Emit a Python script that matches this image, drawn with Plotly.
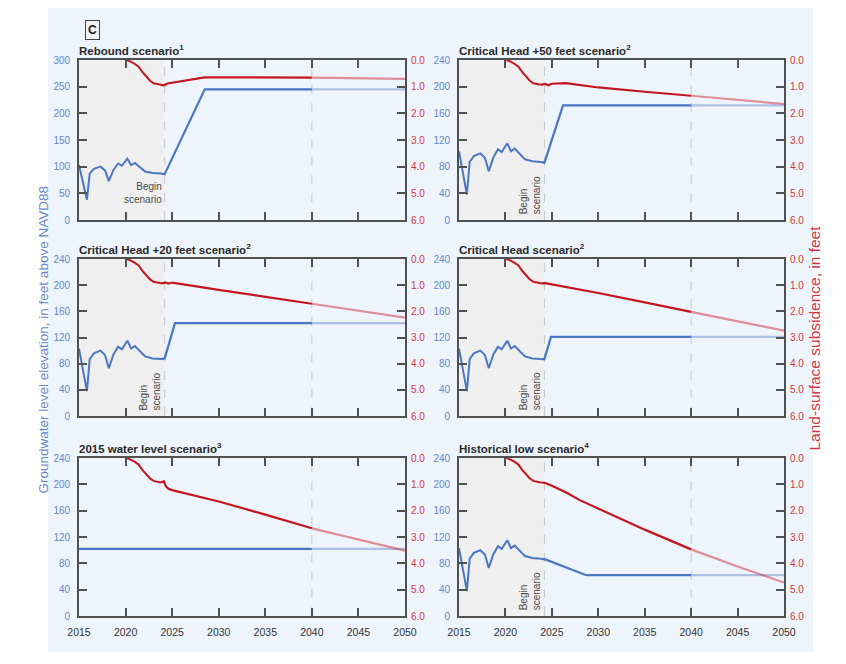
import plotly.graph_objects as go

# historical record, shared by the scenario panels
hist_gw_years = [2015.0, 2015.85, 2016.15, 2016.6, 2017.3, 2017.8, 2018.2, 2018.7,
                 2019.2, 2019.6, 2020.2, 2020.6, 2021.0, 2021.5, 2022.1, 2022.9, 2023.8]
hist_gw = [103, 38, 87, 96, 100, 93, 73, 94, 106, 102, 115, 103, 107, 100, 91, 88, 87]
hist_sub_years = [2020.1, 2020.5, 2021.0, 2021.4, 2021.8, 2022.2, 2022.6, 2023.0, 2023.4, 2023.8]
hist_sub = [0.0, 0.05, 0.15, 0.25, 0.45, 0.63, 0.77, 0.87, 0.9, 0.93]

# scenarios (groundwater level in ft, subsidence in ft)
rebound_gw_years = [2023.8, 2024.2, 2028.5, 2040, 2050]
rebound_gw = [87, 86, 245, 245, 245]
rebound_sub_years = [2023.8, 2024.1, 2024.5, 2025.5, 2027.0, 2028.5, 2040, 2050]
rebound_sub = [0.93, 0.95, 0.88, 0.82, 0.72, 0.65, 0.66, 0.71]

ch50_gw_years = [2023.8, 2024.2, 2026.2, 2040, 2050]
ch50_gw = [87, 86, 172, 172, 172]
ch50_sub_years = [2023.8, 2024.3, 2024.6, 2025.0, 2026.5, 2030, 2035, 2040, 2050]
ch50_sub = [0.93, 0.9, 0.95, 0.89, 0.87, 1.03, 1.19, 1.34, 1.65]

ch20_gw_years = [2023.8, 2024.2, 2025.3, 2040, 2050]
ch20_gw = [87, 88, 142, 142, 142]
ch20_sub_years = [2023.8, 2024.3, 2024.6, 2025.0, 2030, 2035, 2040, 2050]
ch20_sub = [0.93, 0.9, 0.94, 0.9, 1.18, 1.44, 1.71, 2.24]

ch_gw_years = [2023.8, 2024.2, 2024.9, 2040, 2050]
ch_gw = [87, 87, 121, 121, 121]
ch_sub_years = [2023.8, 2024.3, 2025.0, 2030, 2035, 2040, 2050]
ch_sub = [0.93, 0.92, 0.97, 1.3, 1.66, 2.02, 2.74]

wl2015_gw_years = [2015, 2040, 2050]
wl2015_gw = [102, 102, 102]
wl2015_sub_years = [2023.8, 2024.1, 2024.3, 2024.6, 2025.0, 2030, 2035, 2040, 2050]
wl2015_sub = [0.93, 0.88, 1.06, 1.17, 1.22, 1.65, 2.15, 2.67, 3.52]

histlow_gw_years = [2023.8, 2024.3, 2028.7, 2040, 2050]
histlow_gw = [87, 86, 62, 62, 62]
histlow_sub_years = [2023.8, 2024.3, 2025.0, 2026.5, 2028.0, 2030, 2035, 2040, 2045, 2050]
histlow_sub = [0.93, 0.95, 1.05, 1.3, 1.6, 1.92, 2.72, 3.47, 4.12, 4.73]

titles = ["Rebound scenario<sup>1</sup>", "Critical Head +50 feet scenario<sup>2</sup>",
          "Critical Head +20 feet scenario<sup>2</sup>", "Critical Head scenario<sup>2</sup>",
          "2015 water level scenario<sup>3</sup>", "Historical low scenario<sup>4</sup>"]
x_ticks = [2015, 2020, 2025, 2030, 2035, 2040, 2045, 2050]
begin_year = 2024.2

panels = [
    dict(gw=(rebound_gw_years, rebound_gw), sub=(rebound_sub_years, rebound_sub), hist=True, gwmax=300),
    dict(gw=(ch50_gw_years, ch50_gw), sub=(ch50_sub_years, ch50_sub), hist=True, gwmax=240),
    dict(gw=(ch20_gw_years, ch20_gw), sub=(ch20_sub_years, ch20_sub), hist=True, gwmax=240),
    dict(gw=(ch_gw_years, ch_gw), sub=(ch_sub_years, ch_sub), hist=True, gwmax=240),
    dict(gw=(wl2015_gw_years, wl2015_gw), sub=(wl2015_sub_years, wl2015_sub), hist=False, gwmax=240),
    dict(gw=(histlow_gw_years, histlow_gw), sub=(histlow_sub_years, histlow_sub), hist=True, gwmax=240),
]

# the page body keeps an 8px margin, so the figure is laid out in window pixels minus that
OFF = 8
W, H = 846 - 2 * OFF, 664 - 2 * OFF
FONT = "Liberation Sans Narrow, Liberation Sans, Arial, sans-serif"
BLUE = "#4a76c4"
BLUE_FADE = "rgba(74,118,196,0.4)"
RED = "#c4161f"
RED_FADE = "rgba(208,40,50,0.5)"
BLUE_TXT = "#5f89cb"
RED_TXT = "#d2363f"
FRAME = "#505050"


def px_x(p):
    return (p - OFF) / W


def px_y(p):
    return 1 - (p - OFF) / H


def split_at(xs, ys, cut=2040):
    a = [(x, y) for x, y in zip(xs, ys) if x <= cut]
    b = [(x, y) for x, y in zip(xs, ys) if x >= cut]
    return list(zip(*a)), list(zip(*b))


col_px = [(79, 405), (459, 784)]
row_px = [(60, 220), (259, 416), (458, 616)]
axis_common = dict(ticks="inside", ticklen=8, tickwidth=1.5, tickcolor=FRAME, showline=True,
                   linecolor=FRAME, linewidth=1.8, showgrid=False, zeroline=False,
                   automargin=False)

fig = go.Figure()
shapes = []
annotations = []

# page background panel
shapes.append(dict(type="rect", xref="paper", yref="paper", x0=px_x(48), x1=px_x(813),
                   y0=px_y(652), y1=1, fillcolor="#eef4fc", line_width=0, layer="below"))

for i, p in enumerate(panels):
    r, c = divmod(i, 2)
    xa = "x" if i == 0 else "x%d" % (i + 1)
    ya = "y%d" % (2 * i + 1) if i else "y"
    ya2 = "y%d" % (2 * i + 2)
    xl, xr = col_px[c]
    yt, yb = row_px[r]

    fig.layout["xaxis%s" % ("" if i == 0 else i + 1)] = dict(
        domain=[px_x(xl), px_x(xr)], anchor=ya, range=[2015, 2050],
        tickvals=x_ticks, showticklabels=(r == 2), mirror="ticks", ticklabelstandoff=5,
        tickfont=dict(size=10.5, color="#333333", family=FONT), **axis_common)
    gmax = p["gwmax"]
    fig.layout["yaxis%s" % ("" if i == 0 else 2 * i + 1)] = dict(
        domain=[px_y(yb), px_y(yt)], anchor=xa, range=[0, gmax], dtick=gmax / 6,
        ticklabelstandoff=5, tickfont=dict(size=10, color=BLUE_TXT, family=FONT), **axis_common)
    fig.layout["yaxis%d" % (2 * i + 2)] = dict(
        overlaying=ya, anchor=xa, side="right", range=[6, 0], dtick=1, tickformat=".1f",
        ticklabelstandoff=2, tickfont=dict(size=10, color=RED_TXT, family=FONT), **axis_common)

    # shading and reference lines
    if p["hist"]:
        shapes.append(dict(type="rect", xref=xa, yref=ya + " domain", x0=2015, x1=begin_year,
                           y0=0, y1=1, fillcolor="#efefef", line_width=0, layer="below"))
        shapes.append(dict(type="line", xref=xa, yref=ya + " domain", x0=begin_year, x1=begin_year,
                           y0=0, y1=1, line=dict(color="#c8c8c8", width=1, dash="dash"), layer="below"))
    shapes.append(dict(type="line", xref=xa, yref=ya + " domain", x0=2040, x1=2040,
                       y0=0, y1=1, line=dict(color="#c8c8c8", width=1, dash="dash"), layer="below"))

    # historical traces
    if p["hist"]:
        fig.add_trace(go.Scatter(x=hist_gw_years, y=hist_gw, xaxis=xa, yaxis=ya, mode="lines",
                                 line=dict(color=BLUE, width=2), showlegend=False))
    fig.add_trace(go.Scatter(x=hist_sub_years, y=hist_sub, xaxis=xa, yaxis=ya2, mode="lines",
                             line=dict(color=RED, width=2), showlegend=False))

    # scenario traces, lighter after 2040
    for key, yax, col, fade in (("gw", ya, BLUE, BLUE_FADE), ("sub", ya2, RED, RED_FADE)):
        (sx, sy), (fx, fy) = split_at(*p[key])
        fig.add_trace(go.Scatter(x=fx, y=fy, xaxis=xa, yaxis=yax, mode="lines",
                                 line=dict(color=fade, width=2.2), showlegend=False))
        fig.add_trace(go.Scatter(x=sx, y=sy, xaxis=xa, yaxis=yax, mode="lines",
                                 line=dict(color=col, width=2.2), showlegend=False))

    # panel title
    annotations.append(dict(text="<b>%s</b>" % titles[i], xref="paper", yref="paper",
                            x=px_x(xl - 2), y=px_y(yt - 1), xanchor="left", yanchor="bottom",
                            showarrow=False, font=dict(size=11.5, color="#2a2a2a", family=FONT)))

    # begin scenario label
    if p["hist"]:
        if i == 0:
            annotations.append(dict(text="Begin<br>scenario", xref=xa, yref=ya, x=begin_year - 0.1,
                                    y=50, xanchor="right", yanchor="middle", align="right",
                                    showarrow=False, font=dict(size=10, color="#4a4a4a", family=FONT)))
        else:
            annotations.append(dict(text="Begin<br>scenario", xref=xa, yref=ya + " domain",
                                    x=begin_year - 0.1, y=0.02, xanchor="right", yanchor="bottom",
                                    textangle=-90, align="left", showarrow=False,
                                    font=dict(size=10, color="#4a4a4a", family=FONT)))

annotations.append(dict(text="<b>C</b>", xref="paper", yref="paper", x=px_x(84.5), y=px_y(20),
                        showarrow=False, bgcolor="#f2f2f2", bordercolor="#444444", borderwidth=1,
                        borderpad=2, font=dict(size=12, color="#222222", family=FONT)))
annotations.append(dict(text="Groundwater level elevation, in feet above NAVD88", xref="paper",
                        yref="paper", x=px_x(33), y=px_y(340), textangle=-90, showarrow=False,
                        font=dict(size=13.5, color=BLUE_TXT, family=FONT)))
annotations.append(dict(text="Land-surface subsidence, in feet", xref="paper", yref="paper",
                        x=px_x(824), y=px_y(338), textangle=-90, showarrow=False,
                        font=dict(size=15.5, color=RED_TXT, family=FONT)))

fig.update_layout(width=W, height=H, margin=dict(l=0, r=0, t=0, b=0),
                  paper_bgcolor="white", plot_bgcolor="white", shapes=shapes,
                  annotations=annotations, font=dict(family=FONT))
fig.write_html("out.html")
